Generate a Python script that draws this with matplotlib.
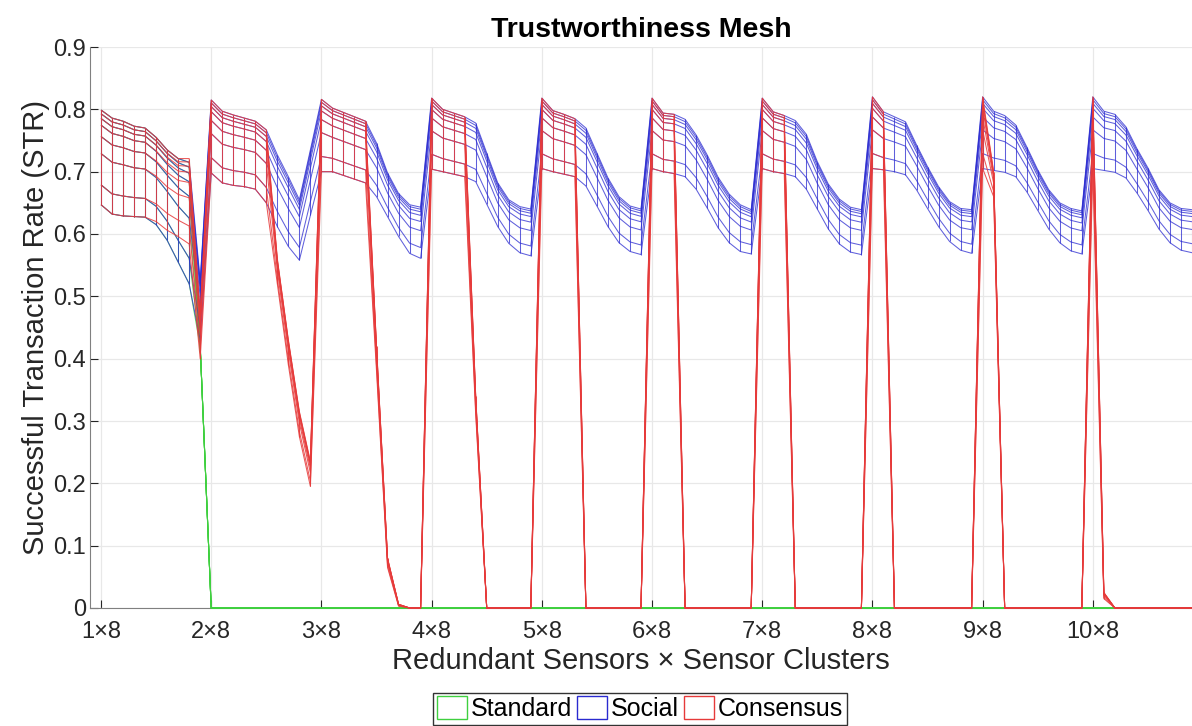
import numpy as np
import matplotlib
matplotlib.use("Agg")
import matplotlib.pyplot as plt
from matplotlib.collections import LineCollection
from matplotlib.patches import Patch

plt.rcParams['font.family'] = ['Liberation Sans', 'DejaVu Sans']

# ---------------- data ----------------
x_ticks = [1, 11, 21, 31, 41, 51, 61, 71, 81, 91]
x_labels = ["1×8", "2×8", "3×8", "4×8", "5×8", "6×8", "7×8", "8×8", "9×8", "10×8"]

# relative position of each mesh row between the top and bottom row
row_frac = [0.0, 0.04, 0.09, 0.16, 0.28, 0.46, 0.79, 1.0]

# Social (blue) mesh: top and bottom rows, one list of 10 columns per block
social_top = [
    [0.799, 0.786, 0.781, 0.773, 0.770, 0.755, 0.735, 0.721, 0.715, 0.525],
    [0.815, 0.797, 0.791, 0.786, 0.781, 0.767, 0.727, 0.692, 0.655, 0.735],
    [0.816, 0.802, 0.795, 0.788, 0.781, 0.746, 0.698, 0.665, 0.647, 0.643],
    [0.818, 0.800, 0.794, 0.788, 0.778, 0.730, 0.682, 0.655, 0.644, 0.640],
    [0.818, 0.798, 0.792, 0.785, 0.770, 0.730, 0.690, 0.660, 0.645, 0.640],
    [0.818, 0.794, 0.792, 0.784, 0.759, 0.727, 0.691, 0.664, 0.647, 0.639],
    [0.818, 0.796, 0.790, 0.782, 0.760, 0.716, 0.680, 0.656, 0.643, 0.639],
    [0.820, 0.796, 0.788, 0.780, 0.743, 0.708, 0.676, 0.652, 0.641, 0.639],
    [0.820, 0.797, 0.790, 0.775, 0.740, 0.703, 0.671, 0.650, 0.641, 0.637],
    [0.820, 0.797, 0.792, 0.772, 0.737, 0.706, 0.671, 0.650, 0.641, 0.639],
]
social_bottom = [
    [0.647, 0.632, 0.629, 0.628, 0.627, 0.615, 0.590, 0.555, 0.520, 0.430],
    [0.698, 0.682, 0.678, 0.676, 0.672, 0.650, 0.612, 0.580, 0.558, 0.630],
    [0.700, 0.700, 0.694, 0.688, 0.682, 0.660, 0.628, 0.596, 0.569, 0.561],
    [0.704, 0.700, 0.696, 0.692, 0.684, 0.648, 0.612, 0.585, 0.570, 0.565],
    [0.705, 0.700, 0.696, 0.692, 0.677, 0.645, 0.612, 0.586, 0.572, 0.567],
    [0.705, 0.700, 0.697, 0.692, 0.672, 0.642, 0.610, 0.586, 0.572, 0.568],
    [0.705, 0.700, 0.697, 0.692, 0.672, 0.640, 0.608, 0.584, 0.571, 0.567],
    [0.705, 0.703, 0.700, 0.695, 0.671, 0.641, 0.612, 0.588, 0.574, 0.569],
    [0.705, 0.702, 0.699, 0.692, 0.668, 0.638, 0.608, 0.586, 0.573, 0.568],
    [0.705, 0.702, 0.699, 0.690, 0.666, 0.638, 0.608, 0.586, 0.574, 0.570],
]

# Consensus (red) mesh
consensus_top = [
    [0.799, 0.786, 0.781, 0.773, 0.770, 0.755, 0.735, 0.721, 0.721, 0.470],
    [0.815, 0.797, 0.791, 0.786, 0.781, 0.767, 0.560, 0.430, 0.315, 0.235],
    [0.816, 0.802, 0.795, 0.788, 0.781, 0.420, 0.080, 0.006, 0.0, 0.0],
    [0.818, 0.800, 0.794, 0.788, 0.340, 0.0, 0.0, 0.0, 0.0, 0.0],
    [0.818, 0.798, 0.792, 0.785, 0.0, 0.0, 0.0, 0.0, 0.0, 0.0],
    [0.818, 0.794, 0.792, 0.0, 0.0, 0.0, 0.0, 0.0, 0.0, 0.0],
    [0.818, 0.796, 0.790, 0.0, 0.0, 0.0, 0.0, 0.0, 0.0, 0.0],
    [0.820, 0.796, 0.0, 0.0, 0.0, 0.0, 0.0, 0.0, 0.0, 0.0],
    [0.820, 0.700, 0.0, 0.0, 0.0, 0.0, 0.0, 0.0, 0.0, 0.0],
    [0.820, 0.025, 0.0, 0.0, 0.0, 0.0, 0.0, 0.0, 0.0, 0.0],
]
consensus_bottom = [
    [0.647, 0.632, 0.629, 0.628, 0.627, 0.620, 0.606, 0.596, 0.584, 0.400],
    [0.698, 0.682, 0.678, 0.676, 0.672, 0.650, 0.520, 0.390, 0.275, 0.195],
    [0.700, 0.700, 0.694, 0.688, 0.682, 0.380, 0.065, 0.003, 0.0, 0.0],
    [0.704, 0.700, 0.696, 0.692, 0.310, 0.0, 0.0, 0.0, 0.0, 0.0],
    [0.705, 0.700, 0.696, 0.692, 0.0, 0.0, 0.0, 0.0, 0.0, 0.0],
    [0.705, 0.700, 0.697, 0.0, 0.0, 0.0, 0.0, 0.0, 0.0, 0.0],
    [0.705, 0.700, 0.697, 0.0, 0.0, 0.0, 0.0, 0.0, 0.0, 0.0],
    [0.705, 0.703, 0.0, 0.0, 0.0, 0.0, 0.0, 0.0, 0.0, 0.0],
    [0.705, 0.660, 0.0, 0.0, 0.0, 0.0, 0.0, 0.0, 0.0, 0.0],
    [0.705, 0.015, 0.0, 0.0, 0.0, 0.0, 0.0, 0.0, 0.0, 0.0],
]

# Standard (green) mesh
standard_top = [
    [0.799, 0.786, 0.781, 0.773, 0.770, 0.755, 0.735, 0.721, 0.715, 0.420],
] + [[0.0] * 10 for _ in range(9)]
standard_bottom = [
    [0.647, 0.632, 0.629, 0.628, 0.627, 0.615, 0.590, 0.555, 0.520, 0.420],
] + [[0.0] * 10 for _ in range(9)]

series_names = ["Standard", "Social", "Consensus"]
series_colors = ["#3fd03f", "#2a2ad0", "#e63a3a"]
series_alpha = [0.8, 0.75, 0.85]


def build_mesh(top, bottom):
    t = np.concatenate([np.asarray(b, float) for b in top])
    b = np.concatenate([np.asarray(v, float) for v in bottom])
    f = np.asarray(row_frac)[:, None]
    return t[None, :] - f * (t - b)[None, :]


x = np.arange(1, 101)

fig = plt.figure(figsize=(11.92, 7.26), dpi=100)
ax = fig.add_axes([90 / 1192, 118 / 726, 1 - 90 / 1192, (608 - 47) / 726])

meshes = [build_mesh(standard_top, standard_bottom),
          build_mesh(social_top, social_bottom),
          build_mesh(consensus_top, consensus_bottom)]

for k, (Z, col, a) in enumerate(zip(meshes, series_colors, series_alpha)):
    segs = []
    for r in range(Z.shape[0]):
        segs.append(np.column_stack([x, Z[r]]))
    for c in range(Z.shape[1]):
        segs.append(np.column_stack([np.full(Z.shape[0], x[c]), Z[:, c]]))
    lc = LineCollection(segs, colors=col, linewidths=0.75, alpha=a,
                        zorder=3 + k, clip_on=False)
    ax.add_collection(lc)

ax.set_xlim(0, 100)
ax.set_ylim(0, 0.9)
ax.set_xticks(x_ticks)
ax.set_xticklabels(x_labels)
ax.set_yticks(np.round(np.arange(0, 0.91, 0.1), 1))
ax.set_yticklabels(["0", "0.1", "0.2", "0.3", "0.4", "0.5", "0.6", "0.7", "0.8", "0.9"])
ax.tick_params(labelsize=17, direction='in', length=6, color='#262626', labelcolor='#262626')
ax.tick_params(axis='x', pad=9)
ax.tick_params(axis='y', pad=3)
ax.grid(True, color='#e8e8e8', linewidth=0.9)
ax.set_axisbelow(True)
for s in ['top', 'right']:
    ax.spines[s].set_visible(False)
for s in ['left', 'bottom']:
    ax.spines[s].set_color('#808080')
    ax.spines[s].set_linewidth(0.8)

ax.set_title("Trustworthiness Mesh", fontsize=20.5, fontweight='bold', pad=7)
ax.set_xlabel("Redundant Sensors × Sensor Clusters", fontsize=21, color='#262626', labelpad=3)
ax.set_ylabel("Successful Transaction Rate (STR)", fontsize=21, color='#262626', labelpad=2)

handles = [Patch(facecolor='white', edgecolor=c, linewidth=1.0, label=n)
           for n, c in zip(series_names, series_colors)]
fig.legend(handles=handles, loc='upper center', bbox_to_anchor=(0.537, 0.046),
           ncol=3, fontsize=18, frameon=True, fancybox=False, edgecolor='black',
           handlelength=1.2, handleheight=1.0, handletextpad=0.15, columnspacing=0.2,
           borderpad=0.15, borderaxespad=0)

fig.savefig("out.png", dpi=100)
